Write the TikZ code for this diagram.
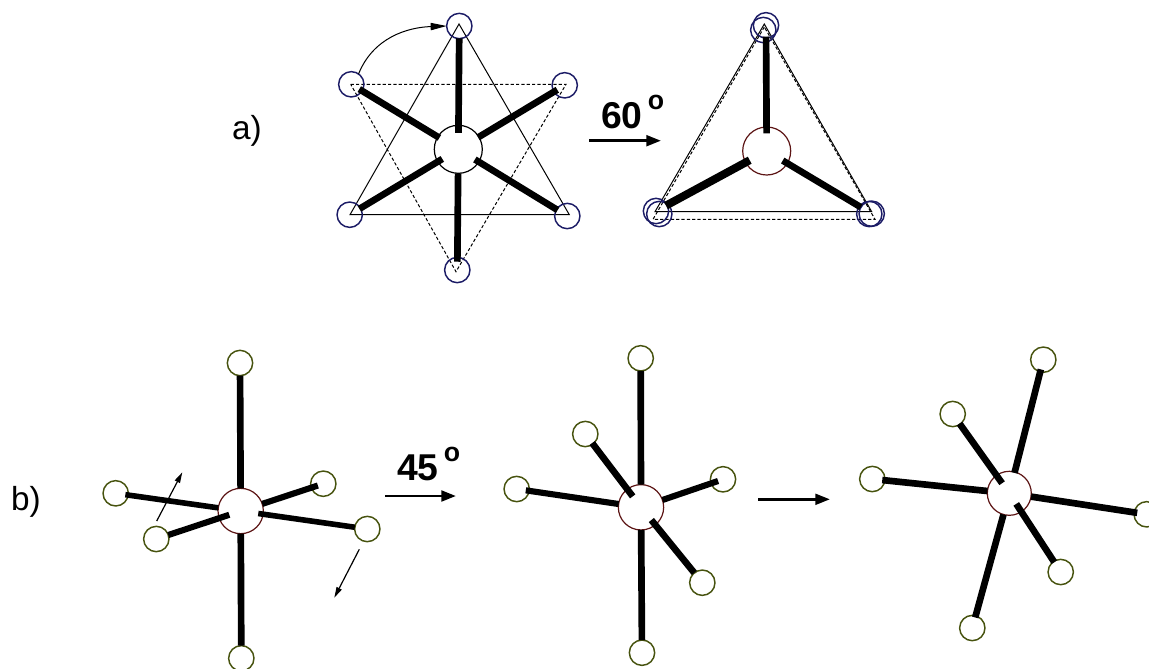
\documentclass[tikz,border=0pt]{standalone}
\usepackage{fontspec}
\setmainfont{Liberation Sans}
\usetikzlibrary{arrows.meta}
\definecolor{atomblue}{HTML}{1C1C66}
\definecolor{atomgreen}{HTML}{47530F}
\definecolor{hubred}{HTML}{5C1414}
\newcommand{\degmark}{\raisebox{14pt}{\fontsize{20}{20}\selectfont\hspace{4pt}o}}
\tikzset{every picture/.style={line width=0.75pt},
  atom/.style={circle,draw=atomgreen,line width=1.1pt,inner sep=0pt,outer sep=0pt,minimum size=19pt},
  atoma/.style={atom,draw=atomblue},
  hub/.style={circle,draw=hubred,line width=0.9pt,fill=white,inner sep=0pt,outer sep=0pt,minimum size=34pt},
  bond/.style={line width=5pt},
  bondthin/.style={line width=4.2pt},
  dashedline/.style={dash pattern=on 2.4pt off 1.6pt},
  bigarrow/.style={line width=2.2pt,-{Triangle[length=11pt,width=8pt]}},
  smallarrow/.style={line width=0.9pt,-{Triangle[length=8pt,width=4.2pt]}},
  angle/.style={inner sep=0pt,font=\fontsize{28}{28}\selectfont\bfseries},
  panel/.style={inner sep=0pt,font=\fontsize{25}{25}\selectfont}}

\begin{document}
\begin{tikzpicture}[x=0.75pt,y=0.75pt,yscale=-1,xscale=1]
\useasboundingbox (0,0) rectangle (1149,668);

%a) triangles
\draw   (459,24) -- (350,214.7) -- (569.3,214.7) -- cycle ;
\draw [dashedline]  (350.7,84.3) -- (566,84.3) -- (456,271.7) -- cycle ;
\draw   (764.3,24) -- (655,211.7) -- (871.7,211.7) -- cycle ;
\draw [dashedline]  (764.3,27) -- (653,219.3) -- (875,219.3) -- cycle ;

%a) left molecule
\node [hub,draw=black,minimum size=36pt] (hubA) at (458.3,149.3) {};
\node [atoma] (aTop) at (459.3,26) {};
\node [atoma] (aUL) at (351.3,84.3) {};
\node [atoma] (aUR) at (564.7,85.3) {};
\node [atoma] (aLL) at (349.7,214.7) {};
\node [atoma] (aLR) at (567.3,216) {};
\node [atoma] (aBot) at (457.3,270) {};
\draw [bond,shorten <=-0.3pt,shorten >=-5.7pt] (aTop) -- (hubA) ;
\draw [bond,shorten <=-2.5pt,shorten >=-1.4pt] (aUL) -- (hubA) ;
\draw [bond,shorten <=-3pt,shorten >=-0.7pt] (aUR) -- (hubA) ;
\draw [bond,shorten <=-1pt,shorten >=-4pt] (aLL) -- (hubA) ;
\draw [bond,shorten <=-1pt,shorten >=-3.4pt] (aLR) -- (hubA) ;
\draw [bond,shorten <=-3.3pt] (aBot) -- (hubA) ;
\draw [->,>={Triangle[length=12pt,width=5.5pt]}] (aUL.55) to [out=-68,in=178] (aTop.west) ;

%a) right molecule
\node [hub,minimum size=36pt] (hubB) at (766.7,151) {};
\node [atoma] (bTop) at (766,25.3) {};
\node [atoma] (bTopBack) at (763.3,30) {};
\node [atoma] (bLL) at (656,211) {};
\node [atoma] (bLLBack) at (659.3,214) {};
\node [atoma] (bLR) at (871.7,213.7) {};
\node [atoma] (bLRBack) at (869.3,214) {};
\draw [bond,shorten <=-1pt,shorten >=-4.7pt] (bTop) -- (hubB) ;
\draw [bond,line width=6pt,shorten <=-1pt,shorten >=-3.5pt] (bLL) -- (hubB) ;
\draw [bond,shorten >=-4pt] (bLR) -- (hubB) ;

%a) labels
\node [panel] (labelA) at (247,131) {a)};
\node [angle,anchor=west] (angleA) at (600.5,112) {60\degmark};
\coordinate (arrowAs) at (589.3,140.7);
\coordinate (arrowAe) at (661,140.7);
\draw [bigarrow] (arrowAs) -- (arrowAe) ;

%b) first molecule
\node [hub] (hubC) at (240.7,511) {};
\node [atom] (cTop) at (240,363) {};
\node [atom] (cL) at (115.7,493.3) {};
\node [atom] (cIn) at (156.3,539) {};
\node [atom] (cUR) at (323.3,483.7) {};
\node [atom] (cLR) at (367.3,529) {};
\node [atom] (cBot) at (241.3,658.3) {};
\draw [bond] (cTop) -- (hubC) ;
\draw [bondthin,shorten <=-2.2pt] (cL) -- (hubC) ;
\draw [bondthin,line width=4.6pt,shorten >=-8pt] (cIn) -- (hubC) ;
\draw [bondthin,line width=4.6pt,shorten <=-5.2pt] (cUR) -- (hubC) ;
\draw [bondthin,shorten >=-3.7pt] (cLR) -- (hubC) ;
\draw [bond] (cBot) -- (hubC) ;
\coordinate (swingAs) at (156.7,521);
\coordinate (swingAe) at (182.3,472.3);
\coordinate (swingBs) at (359.3,549.3);
\coordinate (swingBe) at (334.3,597.7);
\draw [smallarrow] (swingAs) -- (swingAe) ;
\draw [smallarrow] (swingBs) -- (swingBe) ;

%b) labels
\node [panel] (labelB) at (26,502) {b)};
\node [angle,anchor=west] (angleB) at (396.5,464) {45\degmark};
\coordinate (arrowBs) at (385,496);
\coordinate (arrowBe) at (456,496);
\draw [bigarrow] (arrowBs) -- (arrowBe) ;

%b) second molecule
\node [hub] (hubD) at (641,507.3) {};
\node [atom] (dTop) at (640.7,358.3) {};
\node [atom] (dUL) at (585.3,434) {};
\node [atom] (dL) at (516.7,489) {};
\node [atom] (dR) at (723,479.3) {};
\node [atom] (dLR) at (702.3,582.7) {};
\node [atom] (dBot) at (642,652.7) {};
\draw [bond] (dTop) -- (hubD) ;
\draw [bond,shorten <=-1pt,shorten >=-6.7pt] (dUL) -- (hubD) ;
\draw [bondthin,line width=4.6pt,shorten <=-2.6pt] (dL) -- (hubD) ;
\draw [bondthin,line width=4.6pt,shorten <=-5.6pt] (dR) -- (hubD) ;
\draw [bond,shorten >=-4.7pt] (dLR) -- (hubD) ;
\draw [bond] (dBot) -- (hubD) ;
\coordinate (arrowCs) at (758.3,499.3);
\coordinate (arrowCe) at (830,499.3);
\draw [bigarrow] (arrowCs) -- (arrowCe) ;

%b) third molecule
\node [hub,minimum size=33pt] (hubE) at (1009.3,493.3) {};
\node [atom] (eTR) at (1043.3,359.7) {};
\node [atom] (eUL) at (952.7,414) {};
\node [atom] (eL) at (872.3,479) {};
\node [atom] (eR) at (1146.7,514.3) {};
\node [atom] (eLR) at (1060.7,572) {};
\node [atom] (eBot) at (972.3,628) {};
\draw [bond,shorten <=-2pt,shorten >=-0.7pt] (eTR) -- (hubE) ;
\draw [bond,shorten <=-0.7pt,shorten >=-7.2pt] (eUL) -- (hubE) ;
\draw [bond,shorten <=-2pt] (eL) -- (hubE) ;
\draw [bond,shorten <=-2.3pt] (eR) -- (hubE) ;
\draw [bond,shorten <=-0.7pt,shorten >=-7pt] (eLR) -- (hubE) ;
\draw [bond,shorten <=-1.3pt] (eBot) -- (hubE) ;
\end{tikzpicture}
\end{document}
